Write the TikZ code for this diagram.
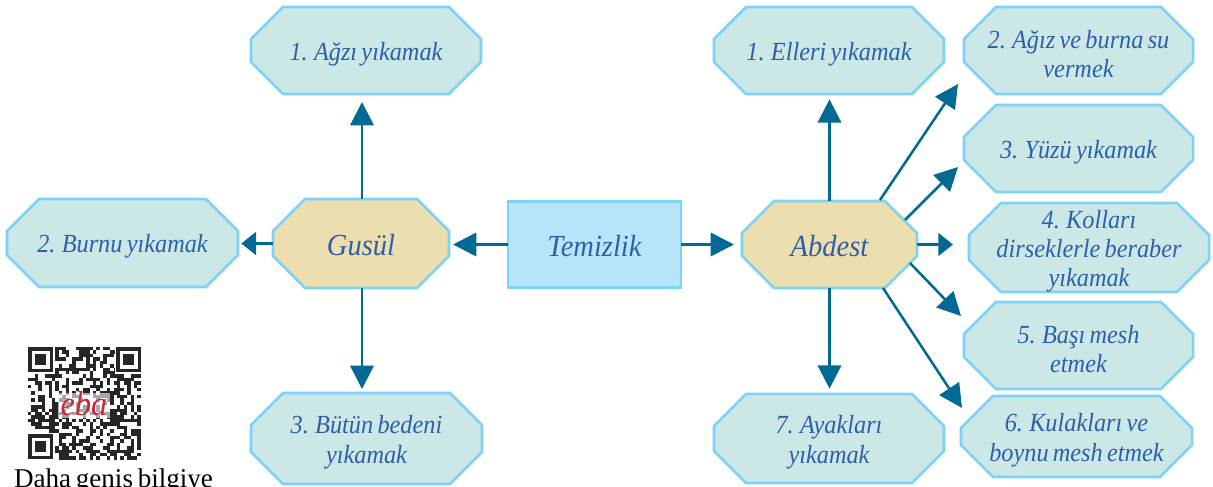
\documentclass[tikz,border=0pt]{standalone}
\usepackage{fontspec}
\setmainfont[WordSpace=0.7,ItalicFeatures={FakeStretch=0.93}]{Liberation Serif}
\usetikzlibrary{arrows.meta}
\definecolor{edgeblue}{HTML}{7DD3F5}
\definecolor{tealfill}{HTML}{CBE7E6}
\definecolor{sandfill}{HTML}{ECDEAE}
\definecolor{skyfill}{HTML}{B6E5F9}
\definecolor{inkblue}{HTML}{2E5FA8}
\definecolor{arrowblue}{HTML}{006A94}
\definecolor{ebared}{HTML}{C8283C}
\tikzset{
  octshape/.style={draw=edgeblue,line width=1.9pt,line join=miter},
  stepfill/.style={octshape,fill=tealfill},
  mainfill/.style={octshape,fill=sandfill},
  octlabel/.style={inner sep=0pt,outer sep=0pt,align=center,yshift=-2.8pt,text=inkblue,font=\fontsize{19.6}{22}\selectfont\itshape},
  biglabel/.style={inner sep=0pt,outer sep=0pt,align=center,yshift=-1.5pt,text=inkblue,font=\fontsize{23}{25}\selectfont\itshape},
  arr/.style={draw=arrowblue,line width=1.9pt,-{Triangle[length=17.5pt,width=17.5pt,fill=arrowblue]}},
  arrshort/.style={draw=arrowblue,line width=1.9pt,-{Triangle[length=11pt,width=17pt,fill=arrowblue]}},
}
% #1 fill style, #2 label style, #3 name, #4-#7 x1,y1,x2,y2, #8 text
\newcommand{\octa}[8]{%
  \draw[#1] (#4+32,#5) -- (#6-32,#5) -- (#6,#5+32) -- (#6,#7-32) -- (#6-32,#7) -- (#4+32,#7) -- (#4,#7-32) -- (#4,#5+32) -- cycle;
  \pgfmathsetlengthmacro{\octw}{(#6-#4)*0.75pt}%
  \pgfmathsetlengthmacro{\octh}{(#7-#5)*0.75pt}%
  \node[inner sep=0pt,outer sep=0pt,minimum width=\octw,minimum height=\octh] (#3) at ({(#4+#6)/2},{(#5+#7)/2}) {};
  \node[#2] (#3-label) at (#3.center) {#8};
}
\begin{document}
\begin{tikzpicture}[x=0.75pt,y=-0.75pt]
\useasboundingbox (0,0) rectangle (1213,486);
\clip (0,0) rectangle (1213,486);
% boxes
\octa{stepfill}{octlabel}{gone}{251}{7}{481}{94}{1. Ağzı yıkamak}
\octa{stepfill}{octlabel}{gtwo}{7}{199}{238}{287}{2. Burnu yıkamak}
\octa{stepfill}{octlabel}{gthree}{251}{393}{482}{484}{3. Bütün bedeni\\yıkamak}
\octa{mainfill}{biglabel}{gusul}{273}{199}{449}{288}{Gusül}
\node[draw=edgeblue,line width=1.9pt,fill=skyfill,inner sep=0pt,outer sep=0pt,minimum width=130pt,minimum height=64.5pt] (temizlik) at (594.5,244.5) {};
\node[biglabel] (temizlik-label) at (temizlik.center) {Temizlik};
\octa{mainfill}{biglabel}{abdest}{742}{201}{917}{288}{Abdest}
\octa{stepfill}{octlabel}{aone}{714}{7}{944}{94}{1. Elleri yıkamak}
\octa{stepfill}{octlabel}{atwo}{964}{7}{1193}{94}{2. Ağız ve burna su\\vermek}
\octa{stepfill}{octlabel}{athree}{964}{105}{1193}{192}{3. Yüzü yıkamak}
\octa{stepfill}{octlabel}{afour}{969}{203}{1209}{292}{4. Kolları\\dirseklerle beraber\\yıkamak}
\octa{stepfill}{octlabel}{afive}{964}{302}{1193}{389}{5. Başı mesh\\etmek}
\octa{stepfill}{octlabel}{asix}{961}{396}{1192}{477}{6. Kulakları ve\\boynu mesh etmek}
\octa{stepfill}{octlabel}{aseven}{714}{394}{944}{483}{7. Ayakları\\yıkamak}
% connectors
\draw[arr,shorten >=3pt] (temizlik.west) -- (temizlik.west -| gusul.east);
\draw[arr,shorten >=6pt] (temizlik.east) -- (temizlik.east -| abdest.west);
\draw[arr,shorten >=6pt] ([xshift=0.75pt]gusul.north) -- ([xshift=0.75pt]gusul.north |- gone.south);
\draw[arr,shorten >=3pt] ([xshift=0.75pt]gusul.south) -- ([xshift=0.75pt]gusul.south |- gthree.north);
\draw[arrshort,shorten >=2.5pt] (gusul.west) -- (gusul.west -| gtwo.east);
\draw[arr,shorten >=4pt] (abdest.north) -- (abdest.north |- aone.south);
\draw[arr,shorten >=4pt] (abdest.south) -- (abdest.south |- aseven.north);
\draw[arrshort,shorten >=12pt] (abdest.east) -- (abdest.east -| afour.west);
\coordinate (stwo) at (880,200);
\coordinate (ttwo) at (958,84);
\coordinate (sthree) at (905,220);
\coordinate (tthree) at (958,167);
\coordinate (sfive) at (910,263);
\coordinate (tfive) at (961,316);
\coordinate (ssix) at (883,288);
\coordinate (tsix) at (962,408);
\draw[arr] (stwo) -- (ttwo);
\draw[arr] (sthree) -- (tthree);
\draw[arr] (sfive) -- (tfive);
\draw[arr] (ssix) -- (tsix);
% QR code
\pgfmathsetseed{4711}
\foreach \i in {0,...,32}{
  \foreach \j in {0,...,32}{
    \pgfmathsetmacro{\bit}{random(0,100)}
    \ifdim\bit pt>52pt
      \fill[black!85] (28+\i*3.42,347+\j*3.42) rectangle +(3.42,3.42);
    \fi
  }
}
\foreach \cx/\cy in {28/347,116/347,28/434}{
  \fill[white] (\cx-1,\cy-1) rectangle +(28,28);
  \fill[black!85] (\cx,\cy) rectangle +(25,25);
  \fill[white] (\cx+3.5,\cy+3.5) rectangle +(18,18);
  \fill[black!85] (\cx+7,\cy+7) rectangle +(11,11);
}
\fill[white,opacity=.6] (58,393) rectangle (110,418);
\node[inner sep=0pt,text=ebared,font=\fontsize{26}{28}\selectfont\itshape] (eba) at (84,404) {eba};
\node[inner sep=0pt,anchor=base,font=\fontsize{20.3}{22}\selectfont] (daha) at (113.5,487) {Daha geniş bilgiye};
\end{tikzpicture}
\end{document}
